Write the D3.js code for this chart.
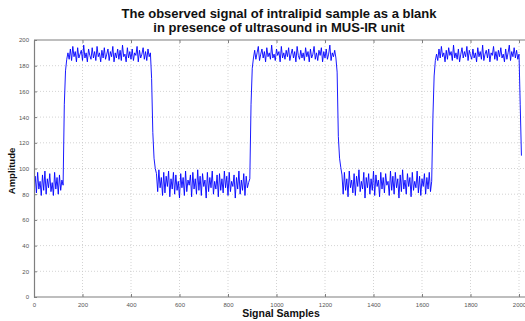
<!DOCTYPE html>
<html>
<head>
<meta charset="utf-8">
<script src="https://cdn.jsdelivr.net/npm/d3@7"></script>
<style>
  body { margin: 0; background: #fff; }
  svg { display: block; font-family: "Liberation Sans", Arial, sans-serif; }
</style>
</head>
<body>
<svg id="chart" width="525" height="321"></svg>
<script>
// chart text
const titleLines = [
  "The observed signal of intralipid sample as a blank",
  "in presence of ultrasound in MUS-IR unit",
];
const xLabel = "Signal Samples";
const yLabel = "Amplitude";

// tick values
const xTicks = [0, 200, 400, 600, 800, 1000, 1200, 1400, 1600, 1800, 2000];
const yTicks = [0, 20, 40, 60, 80, 100, 120, 140, 160, 180, 200];

// signal, one value every 5 samples
const sampleStep = 5;
const amplitude = [
  // low (0-120)
  86, 94, 81, 97, 84, 90, 79, 95, 83, 98, 80, 92, 85, 96, 82, 89, 79, 97, 84, 93, 80, 95, 83, 91, 87,
  // rise
  150, 176, 185,
  // high (140-480)
  190, 185, 193, 184, 195, 187, 191, 183, 194, 186, 189, 192, 184, 196, 186, 190, 183,
  193, 188, 185, 194, 186, 191, 184, 195, 187, 190, 183, 192, 186, 194, 185, 189, 193,
  184, 191, 187, 195, 183, 190, 186, 193, 185, 192, 184, 196, 187, 189, 183, 194, 186,
  191, 185, 193, 184, 190, 188, 195, 183, 192, 186, 189, 194, 185, 191, 184, 193, 187,
  190,
  // fall
  170, 128, 108, 100,
  // low (505-890)
  96, 82, 99, 85, 93, 79, 97, 81, 94, 86, 98, 78, 92, 84, 97, 80, 95,
  83, 90, 77, 96, 85, 93, 79, 98, 82, 91, 87, 95, 78, 97, 84, 92, 80,
  99, 83, 94, 79, 96, 86, 91, 77, 97, 82, 93, 85, 98, 80, 90, 84, 95,
  78, 96, 83, 92, 81, 98, 85, 94, 79, 97, 82, 90, 86, 95, 77, 93, 84,
  98, 80, 91, 83, 96, 79, 94, 85, 89, 92,
  // rise
  150, 178, 186,
  // high (910-1245)
  192, 185, 190, 195, 184, 189, 193, 186, 191, 183, 194, 187, 190, 185, 196, 186, 189,
  184, 193, 188, 191, 183, 195, 186, 190, 185, 192, 187, 194, 184, 189, 193, 186, 191,
  183, 195, 188, 185, 192, 186, 190, 184, 194, 187, 191, 183, 193, 186, 189, 195, 185,
  190, 184, 192, 188, 194, 183, 191, 186, 193, 185, 189, 196, 184, 190, 187, 192, 186,
  // fall
  175, 125, 108, 101,
  // low (1270-1650)
  95, 80, 97, 83, 92, 78, 98, 85, 91, 81, 96, 79, 94, 86, 99, 82, 90,
  84, 97, 77, 93, 85, 96, 80, 92, 83, 98, 79, 95, 86, 91, 78, 97, 84,
  93, 81, 96, 87, 90, 79, 98, 83, 94, 80, 97, 85, 92, 77, 95, 82, 99,
  84, 91, 80, 96, 86, 93, 78, 97, 83, 90, 85, 98, 81, 94, 79, 92, 86,
  96, 80, 93, 84, 97, 82, 90,
  // rise
  140, 172, 184,
  // high (1670-2010)
  189, 184, 193, 186, 195, 187, 190, 183, 192, 185, 194, 188, 191, 184, 196, 186, 190,
  185, 193, 183, 189, 194, 186, 191, 187, 195, 184, 192, 188, 185, 193, 186, 190, 183,
  194, 187, 191, 185, 196, 184, 189, 192, 186, 193, 183, 190, 188, 195, 185, 191, 184,
  192, 187, 194, 186, 189, 183, 193, 185, 190, 196, 184, 191, 187, 194, 186, 192, 185,
  189,
  // fall at the cropped edge
  150, 110,
];

const svg = d3.select("#chart");
const margin = { left: 34, top: 40, bottom: 297 };
const xRight = 519; // pixel of sample 2000, plot box runs past the crop

const x = d3.scaleLinear().domain([0, 2000]).range([margin.left, xRight]);
const y = d3.scaleLinear().domain([0, 200]).range([margin.bottom, margin.top]);

// grid
const grid = svg.append("g").attr("class", "grid")
  .attr("stroke", "#c8c8c8").attr("stroke-dasharray", "1,2").attr("stroke-width", 0.8);
grid.selectAll("line.gx")
  .data(xTicks.slice(1))
  .join("line")
  .attr("class", "gx")
  .attr("x1", (d) => x(d)).attr("x2", (d) => x(d))
  .attr("y1", margin.top).attr("y2", margin.bottom);
grid.selectAll("line.gy")
  .data(yTicks.slice(1, -1))
  .join("line")
  .attr("class", "gy")
  .attr("x1", margin.left).attr("x2", 525)
  .attr("y1", (d) => y(d)).attr("y2", (d) => y(d));

// signal
svg.append("defs").append("clipPath").attr("id", "plotClip")
  .append("rect")
  .attr("x", margin.left).attr("y", margin.top)
  .attr("width", 525 - margin.left).attr("height", margin.bottom - margin.top);

const line = d3.line()
  .x((d, i) => x(i * sampleStep))
  .y((d) => y(d));

svg.append("path")
  .datum(amplitude)
  .attr("clip-path", "url(#plotClip)")
  .attr("fill", "none")
  .attr("stroke", "#0000ff")
  .attr("stroke-width", 0.9)
  .attr("d", line);

// axes, MATLAB style ticks pointing inward
const axisColor = "#7f7f7f";
const tickFont = 6;
const fmt = d3.format("d");

const xAxis = svg.append("g")
  .attr("transform", `translate(0,${margin.bottom})`)
  .call(d3.axisBottom(x).tickValues(xTicks).tickFormat(fmt).tickSize(-3).tickPadding(6).tickSizeOuter(0));
xAxis.select(".domain").attr("d", `M${margin.left},0H525`);

const xTop = svg.append("g")
  .attr("transform", `translate(0,${margin.top})`)
  .call(d3.axisTop(x).tickValues(xTicks).tickSize(-3).tickFormat("").tickSizeOuter(0));
xTop.select(".domain").attr("d", `M${margin.left},0H525`);

const yAxis = svg.append("g")
  .attr("transform", `translate(${margin.left},0)`)
  .call(d3.axisLeft(y).tickValues(yTicks).tickFormat(fmt).tickSize(-3).tickPadding(5).tickSizeOuter(0));

[xAxis, xTop, yAxis].forEach((g) => {
  g.selectAll(".domain").attr("stroke", axisColor).attr("stroke-width", 1.2);
  g.selectAll(".tick line").attr("stroke", axisColor);
  g.selectAll(".tick text")
    .attr("fill", "#555")
    .style("font-size", tickFont + "px")
    .style("font-family", "'Liberation Sans', Arial, sans-serif");
});

// title
svg.append("g")
  .selectAll("text")
  .data(titleLines)
  .join("text")
  .attr("x", 279)
  .attr("y", (d, i) => 18 + i * 14)
  .attr("text-anchor", "middle")
  .style("font-size", "13px")
  .style("font-weight", "bold")
  .attr("fill", "#111")
  .text((d) => d);

// axis labels
svg.append("text")
  .attr("x", 281).attr("y", 317)
  .attr("text-anchor", "middle")
  .style("font-size", "10.5px").style("font-weight", "bold")
  .attr("fill", "#111")
  .text(xLabel);

svg.append("text")
  .attr("transform", "translate(15,171) rotate(-90)")
  .attr("text-anchor", "middle")
  .style("font-size", "9.5px").style("font-weight", "bold")
  .attr("fill", "#111")
  .text(yLabel);
</script>
</body>
</html>
